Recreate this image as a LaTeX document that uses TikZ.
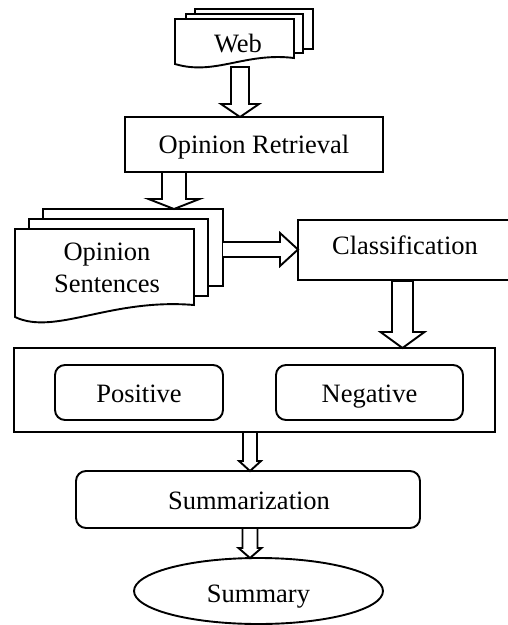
\documentclass[tikz,border=0pt]{standalone}
\usepackage{fontspec}
\setmainfont{Liberation Serif}
\usetikzlibrary{shapes.geometric}
\newcommand\BlkDown[6]{% x, ytop, ytip, half shaft, half head, head length
  \filldraw[fill=white] ({#1-#4},#2) -- ({#1-#4},{#3-#6}) -- ({#1-#5},{#3-#6}) -- (#1,#3)
    -- ({#1+#5},{#3-#6}) -- ({#1+#4},{#3-#6}) -- ({#1+#4},#2) -- cycle;}
\begin{document}
\begin{tikzpicture}[x=1pt,y=-1pt,line width=1.9pt,line join=miter,
  lbl/.style={anchor=base,inner sep=0pt,font=\fontsize{26.5}{32}\selectfont},
  shp/.style={draw,fill=white,inner sep=0pt},
  rbox/.style={shp,rounded corners=10pt}]
\useasboundingbox (0,0) rectangle (508,625);
\clip (0,0) rectangle (508,625);

% Web multidocument
\filldraw[fill=white] (195,9) rectangle (313,49);
\filldraw[fill=white] (186,14) rectangle (303,53);
\filldraw[fill=white] (175,19) -- (294,19) -- (294,58) .. controls (245,52) and (215,76) .. (175,64) -- cycle;
\node[lbl] (web) at (238,52) {Web};

% Opinion Retrieval
\node[shp,minimum width=258pt,minimum height=55pt] (ret) at (254,144.5) {};
\node[lbl] (rett) at (254,153) {Opinion Retrieval};

% arrow Web -> Retrieval
\BlkDown{240}{67}{117}{9}{19}{13}

% Opinion Sentences multidocument
\filldraw[fill=white] (43,209) rectangle (223,286);
\filldraw[fill=white] (29,219) rectangle (208,296);
\filldraw[fill=white] (15,229) -- (194,229) -- (194,305) .. controls (110,298) and (55,336) .. (15,317) -- cycle;
\node[lbl] (os1) at (107,260) {Opinion};
\node[lbl] (os2) at (107,292) {Sentences};

% arrow Retrieval -> Sentences
\BlkDown{174}{172}{209}{12}{25.5}{10}

% Classification
\node[shp,minimum width=222pt,minimum height=60pt] (cls) at (409,250) {};
\node[lbl] (clst) at (405,254) {Classification};

% arrow Sentences -> Classification
\filldraw[fill=white] (223,242) -- (280,242) -- (280,233) -- (298,249.5) -- (280,266) -- (280,257) -- (223,257);

% group box
\node[shp,minimum width=481pt,minimum height=84pt] (grp) at (254.5,390) {};
\node[rbox,minimum width=168pt,minimum height=55pt] (pos) at (139,392.5) {};
\node[lbl] (post) at (139,402) {Positive};
\node[rbox,minimum width=187pt,minimum height=55pt] (neg) at (369.5,392.5) {};
\node[lbl] (negt) at (369.5,402) {Negative};

% arrow Classification -> group
\BlkDown{402.5}{281}{348}{10.5}{22}{16}

% Summarization
\node[rbox,minimum width=344pt,minimum height=57pt] (sumz) at (248,499.5) {};
\node[lbl] (sumzt) at (249,509) {Summarization};

% arrow group -> Summarization
\BlkDown{250}{432}{471}{7}{11}{10}

% Summary
\node[shp,ellipse,minimum width=249pt,minimum height=66pt] (sum) at (258.5,591) {};
\node[lbl] (sumt) at (258.5,602) {Summary};

% arrow Summarization -> Summary
\BlkDown{250}{528}{558}{7.5}{11.5}{10}
\end{tikzpicture}
\end{document}
